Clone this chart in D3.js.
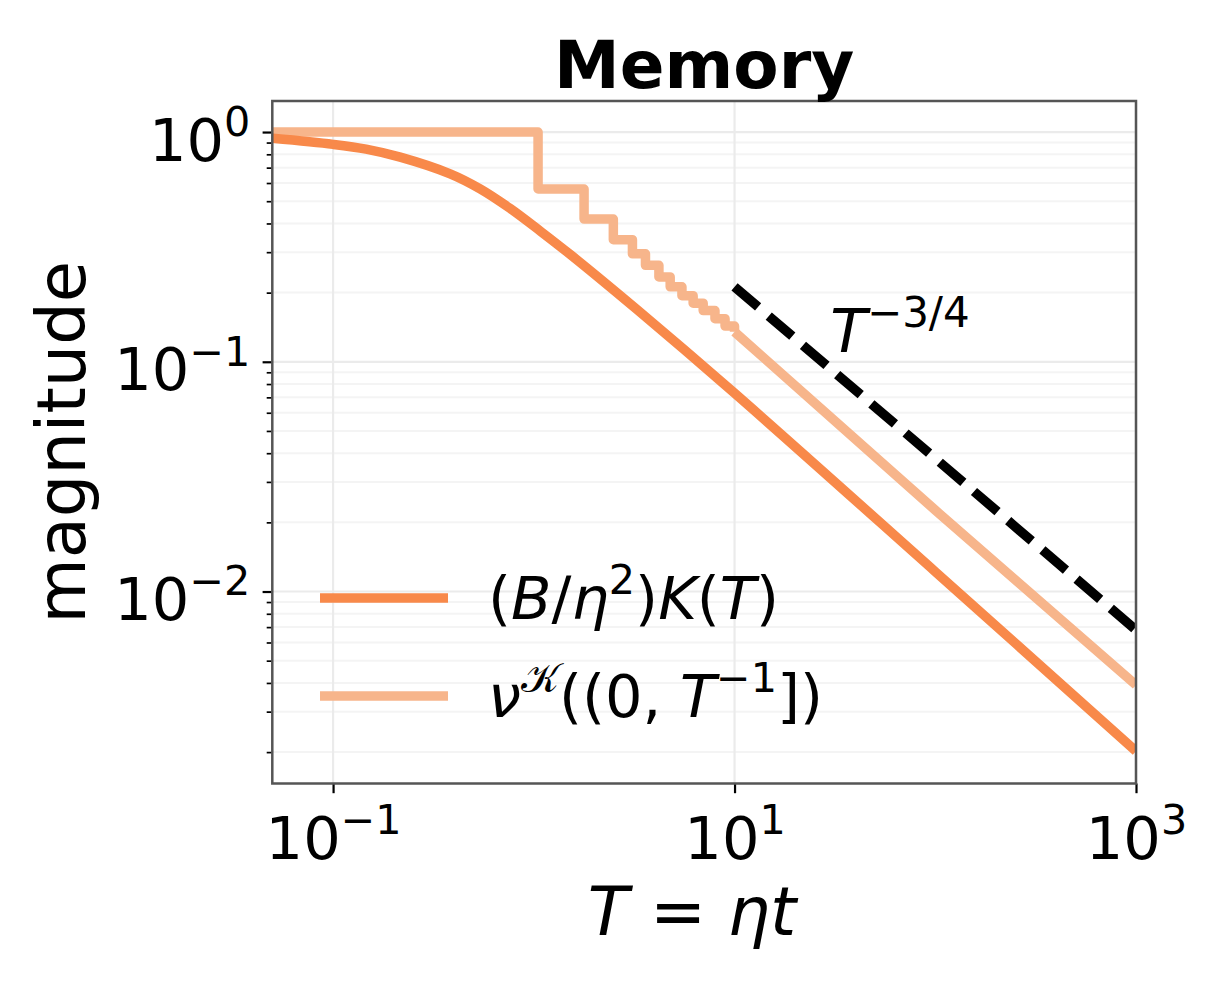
<!DOCTYPE html>
<html>
<head>
<meta charset="utf-8">
<script src="https://cdn.jsdelivr.net/npm/d3@7"></script>
<style>
  body { margin: 0; background: #fff; }
  text { font-family: 'DejaVu Sans', sans-serif; fill: #000; }
</style>
</head>
<body>
<div id="chart"></div>
<script>
// (B/eta^2) K(T)
const kernelT = [0.05, 0.1, 0.146, 0.216, 0.383, 0.54, 0.762, 1.075, 1.52, 3.26, 10, 100, 1000];
const kernelV = [0.939, 0.884, 0.843, 0.778, 0.658, 0.566, 0.465, 0.371, 0.293, 0.169, 0.073, 0.0122, 0.00202];

// nu^K((0, 1/T]) staircase part
const stepT = [0.05, 1.05, 1.78, 2.49, 3.1, 3.6, 4.2, 4.78, 5.47, 6.22, 6.98, 7.99, 8.97, 10];
const stepV = [1.0, 0.565, 0.418, 0.340, 0.295, 0.263, 0.234, 0.212, 0.194, 0.180, 0.167, 0.154, 0.143, 0.135];

// nu^K tail, where the steps are too fine to see
const tailT = [10, 100, 1000];
const tailV = [0.135, 0.0226, 0.00392];

// T^{-3/4} guide
const guideT = [10, 1000];
const guideV = [0.212, 0.0068];

const xTickValues = [0.1, 10, 1000];
const yTickValues = [1, 0.1, 0.01];

const colors = { kernel: '#f8894a', measure: '#f7b58b' };

const W = 1224, H = 988;
const margin = { top: 101, right: 88, bottom: 204.5, left: 272.3 };
const width = W - margin.left - margin.right;
const height = H - margin.top - margin.bottom;
const lw = 9.5;

const svg = d3.select('#chart').append('svg')
  .attr('width', W)
  .attr('height', H);

const xScale = d3.scaleLog()
  .domain([0.0498, 1000])
  .range([0, width]);

const yScale = d3.scaleLog()
  .domain([0.00146, 1.365])
  .range([height, 0]);

const chart = svg.append('g')
  .attr('transform', `translate(${margin.left},${margin.top})`);

// mathtext-ish helper: kinds r, i, sr, si
function addMath(textSel, parts, size) {
  const shift = size * 0.42;
  let up = false;
  parts.forEach(([s, k]) => {
    const sup = k[0] === 's';
    const ts = textSel.append('tspan').text(s)
      .attr('font-style', k.endsWith('i') ? 'italic' : 'normal')
      .attr('font-size', sup ? size * 0.7 : size);
    if (sup && !up) { ts.attr('dy', -shift); up = true; }
    else if (!sup && up) { ts.attr('dy', shift); up = false; }
  });
}

const powerParts = d => {
  const e = Math.round(Math.log10(d));
  return [['10', 'r'], [String(e).replace('-', '\u2212'), 'sr']];
};

// grid
const yMinor = yScale.ticks().filter(d => !yTickValues.some(v => Math.abs(v - d) / v < 1e-6));

chart.append('g')
  .selectAll('line')
  .data(yMinor)
  .join('line')
  .attr('x1', 0).attr('x2', width)
  .attr('y1', d => yScale(d)).attr('y2', d => yScale(d))
  .attr('stroke', '#f4f4f4')
  .attr('stroke-width', 2);

chart.append('g')
  .selectAll('line')
  .data(yTickValues)
  .join('line')
  .attr('x1', 0).attr('x2', width)
  .attr('y1', d => yScale(d)).attr('y2', d => yScale(d))
  .attr('stroke', '#ebebeb')
  .attr('stroke-width', 2.2);

chart.append('g')
  .selectAll('line')
  .data(xTickValues)
  .join('line')
  .attr('x1', d => xScale(d)).attr('x2', d => xScale(d))
  .attr('y1', 0).attr('y2', height)
  .attr('stroke', '#ebebeb')
  .attr('stroke-width', 2.2);

// curves
svg.append('defs').append('clipPath')
  .attr('id', 'plot-clip')
  .append('rect')
  .attr('width', width)
  .attr('height', height);

const plot = chart.append('g').attr('clip-path', 'url(#plot-clip)');

const stepLine = d3.line()
  .x(d => xScale(d[0]))
  .y(d => yScale(d[1]))
  .curve(d3.curveStepAfter);

const smoothLine = d3.line()
  .x(d => xScale(d[0]))
  .y(d => yScale(d[1]))
  .curve(d3.curveCatmullRom.alpha(0.5));

const straightLine = d3.line()
  .x(d => xScale(d[0]))
  .y(d => yScale(d[1]));

const measureStyle = p => p
  .attr('fill', 'none')
  .attr('stroke', colors.measure)
  .attr('stroke-width', lw)
  .attr('stroke-linejoin', 'round');

plot.append('path')
  .datum(d3.zip(stepT, stepV))
  .attr('d', stepLine)
  .call(measureStyle);

plot.append('path')
  .datum(d3.zip(tailT, tailV))
  .attr('d', straightLine)
  .call(measureStyle);

plot.append('path')
  .datum(d3.zip(kernelT, kernelV))
  .attr('d', smoothLine)
  .attr('fill', 'none')
  .attr('stroke', colors.kernel)
  .attr('stroke-width', lw)
  .attr('stroke-linejoin', 'round');

plot.append('path')
  .datum(d3.zip(guideT, guideV))
  .attr('d', straightLine)
  .attr('fill', 'none')
  .attr('stroke', '#000')
  .attr('stroke-width', lw)
  .attr('stroke-dasharray', '31,14');

// guide label at (30, 0.11)
const guideLabel = chart.append('text')
  .attr('x', xScale(30))
  .attr('y', yScale(0.11));
addMath(guideLabel, [['T', 'i'], ['\u22123/4', 'sr']], 60);

// axes
const xAxis = d3.axisBottom(xScale)
  .tickValues(xTickValues)
  .tickSize(9.7)
  .tickFormat('');

const yAxis = d3.axisLeft(yScale)
  .tickValues(yTickValues)
  .tickSize(9.7)
  .tickFormat('');

const yMinorAxis = d3.axisLeft(yScale)
  .tickValues(yMinor)
  .tickSize(5.6)
  .tickFormat('');

chart.append('g')
  .attr('transform', `translate(0,${height})`)
  .call(xAxis)
  .call(g => g.select('.domain').remove())
  .call(g => g.selectAll('.tick line').attr('stroke', '#000').attr('stroke-width', 2.2))
  .call(g => g.selectAll('.tick').each(function (d) {
    const t = d3.select(this).append('text')
      .attr('x', 0)
      .attr('y', 75)
      .attr('text-anchor', 'middle');
    addMath(t, powerParts(d), 59);
  }));

chart.append('g')
  .call(yMinorAxis)
  .call(g => g.select('.domain').remove())
  .call(g => g.selectAll('.tick line').attr('stroke', '#000').attr('stroke-width', 1.7));

chart.append('g')
  .call(yAxis)
  .call(g => g.select('.domain').remove())
  .call(g => g.selectAll('.tick line').attr('stroke', '#000').attr('stroke-width', 2.2))
  .call(g => g.selectAll('.tick').each(function (d) {
    const t = d3.select(this).append('text')
      .attr('x', -22)
      .attr('y', 28)
      .attr('text-anchor', 'end');
    addMath(t, powerParts(d), 59);
  }));

// frame
chart.append('rect')
  .attr('width', width)
  .attr('height', height)
  .attr('fill', 'none')
  .attr('stroke', '#555')
  .attr('stroke-width', 2.5);

// title and axis labels
svg.append('text')
  .attr('x', margin.left + width / 2)
  .attr('y', 88)
  .attr('text-anchor', 'middle')
  .attr('font-size', 66)
  .attr('font-weight', 'bold')
  .text('Memory');

const xLabel = svg.append('text')
  .attr('x', 692)
  .attr('y', 935)
  .attr('text-anchor', 'middle');
addMath(xLabel, [['T', 'i'], [' = ', 'r'], ['η', 'i'], ['t', 'i']], 67);

svg.append('text')
  .attr('transform', `translate(85,${margin.top + height / 2}) rotate(-90)`)
  .attr('text-anchor', 'middle')
  .attr('font-size', 67)
  .text('magnitude');

// legend
const legendItems = [
  { color: colors.kernel, parts: [['(', 'r'], ['B', 'i'], ['/', 'r'], ['η', 'i'], ['2', 'sr'], [')', 'r'], ['K', 'i'], ['(', 'r'], ['T', 'i'], [')', 'r']] },
  { color: colors.measure, parts: [['ν', 'i'], ['\u{1D4A6}', 'sr'], ['((0, ', 'r'], ['T', 'i'], ['\u22121', 'sr'], ['])', 'r']] }
];

const legend = svg.append('g')
  .selectAll('g')
  .data(legendItems)
  .join('g')
  .attr('transform', (d, i) => `translate(320,${598 + i * 98})`);

legend.append('line')
  .attr('x1', 0).attr('x2', 128)
  .attr('stroke', d => d.color)
  .attr('stroke-width', lw);

legend.append('text')
  .attr('x', 168)
  .attr('y', 21)
  .each(function (d) { addMath(d3.select(this), d.parts, 59); });
</script>
</body>
</html>
